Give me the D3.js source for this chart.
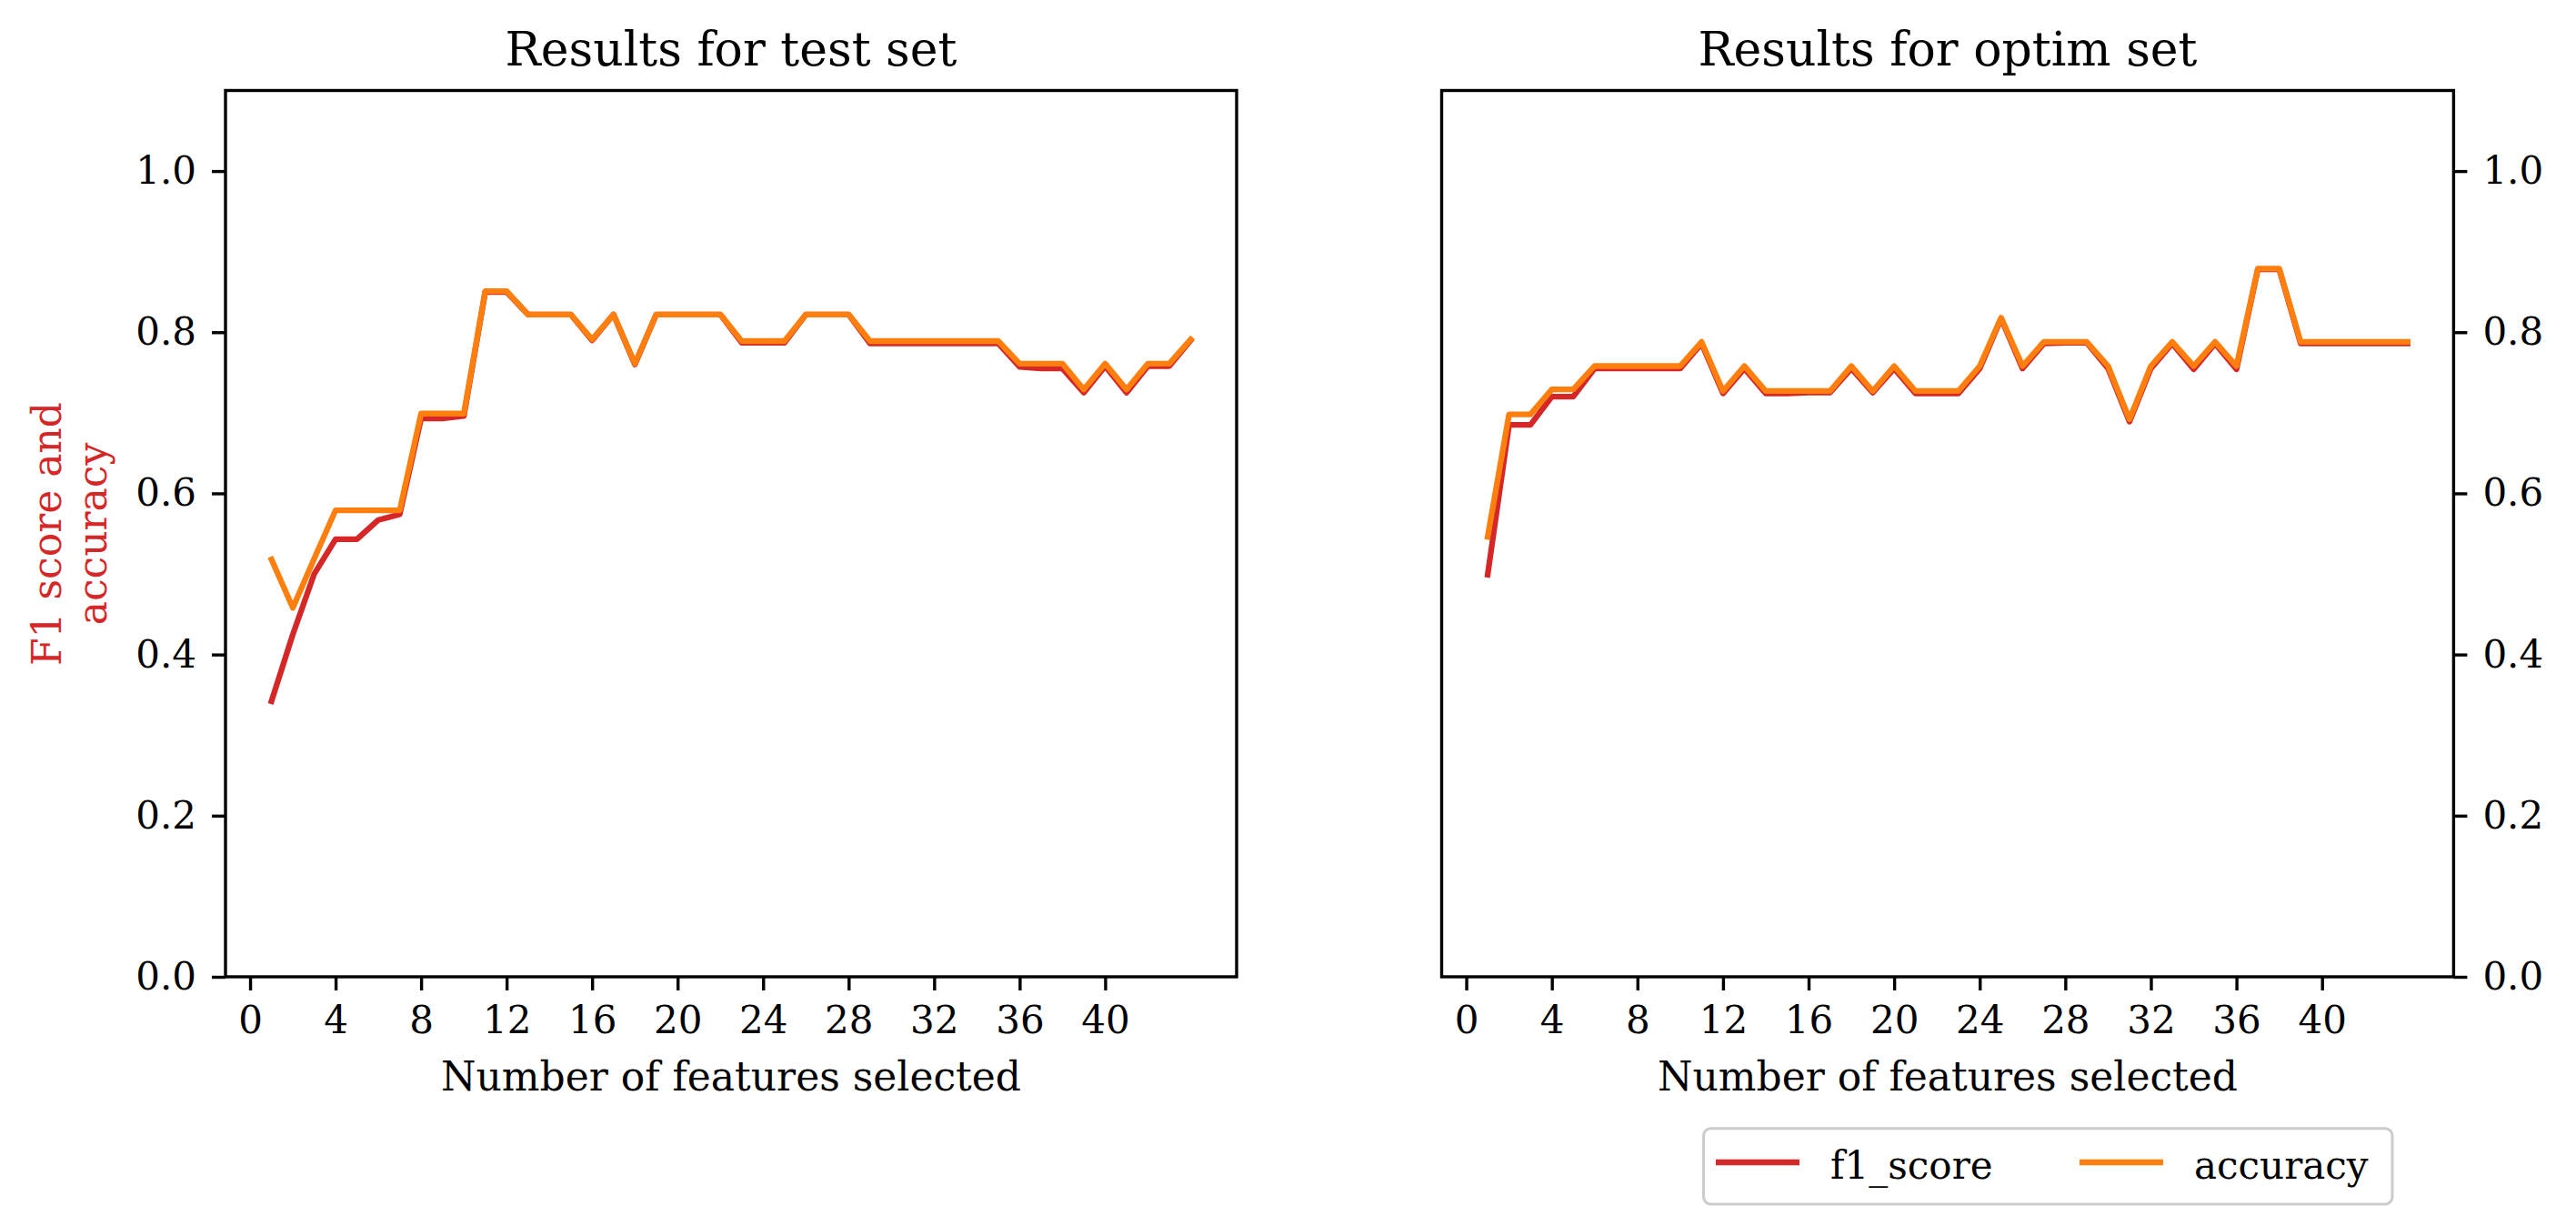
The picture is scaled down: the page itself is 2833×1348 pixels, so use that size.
<!DOCTYPE html>
<html>
<head>
<meta charset="utf-8">
<script src="https://cdn.jsdelivr.net/npm/d3@7/dist/d3.min.js"></script>
<style>
  html, body { margin: 0; padding: 0; background: #ffffff; }
  svg { display: block; }
  text { font-family: "DejaVu Serif", serif; }
</style>
</head>
<body>
<svg id="chart" width="2833" height="1348"></svg>
<script>
// ---------- data ----------
const features = d3.range(1, 45); // 1..44
const xTicks = [0, 4, 8, 12, 16, 20, 24, 28, 32, 36, 40];
const yTicks = [0.0, 0.2, 0.4, 0.6, 0.8, 1.0];

const testF1 = [0.342, 0.425, 0.50, 0.543, 0.543, 0.567, 0.574, 0.693, 0.693, 0.696,
  0.850, 0.850, 0.822, 0.822, 0.822, 0.790, 0.822, 0.760, 0.822, 0.822,
  0.822, 0.822, 0.787, 0.787, 0.787, 0.822, 0.822, 0.822, 0.786, 0.786,
  0.786, 0.786, 0.786, 0.786, 0.786, 0.757, 0.755, 0.755, 0.725, 0.758,
  0.725, 0.758, 0.758, 0.790];
const testAcc = [0.518, 0.458, 0.519, 0.579, 0.579, 0.579, 0.579, 0.699, 0.699, 0.699,
  0.851, 0.851, 0.822, 0.822, 0.822, 0.791, 0.822, 0.761, 0.822, 0.822,
  0.822, 0.822, 0.789, 0.789, 0.789, 0.822, 0.822, 0.822, 0.789, 0.789,
  0.789, 0.789, 0.789, 0.789, 0.789, 0.761, 0.761, 0.761, 0.729, 0.761,
  0.729, 0.761, 0.761, 0.791];

const optimF1 = [0.499, 0.685, 0.685, 0.720, 0.720, 0.755, 0.755, 0.755, 0.755, 0.755,
  0.786, 0.724, 0.755, 0.724, 0.724, 0.725, 0.725, 0.755, 0.725, 0.755,
  0.724, 0.724, 0.724, 0.755, 0.817, 0.755, 0.786, 0.787, 0.787, 0.755,
  0.689, 0.755, 0.786, 0.754, 0.786, 0.754, 0.878, 0.878, 0.786, 0.786,
  0.786, 0.786, 0.786, 0.786];
const optimAcc = [0.546, 0.698, 0.698, 0.729, 0.729, 0.758, 0.758, 0.758, 0.758, 0.758,
  0.788, 0.727, 0.758, 0.727, 0.727, 0.727, 0.727, 0.758, 0.727, 0.758,
  0.727, 0.727, 0.727, 0.758, 0.818, 0.758, 0.788, 0.788, 0.788, 0.758,
  0.692, 0.758, 0.788, 0.758, 0.788, 0.758, 0.879, 0.879, 0.788, 0.788,
  0.788, 0.788, 0.788, 0.788];

const seriesNames = ["f1_score", "accuracy"];
const seriesColors = ["#d62728", "#ff7f0e"];
const titles = ["Results for test set", "Results for optim set"];
const xLabel = "Number of features selected";
const yLabelLines = ["F1 score and", "accuracy"];

// ---------- layout ----------
const svg = d3.select("#chart");
svg.append("rect").attr("width", 2833).attr("height", 1348).attr("fill", "#fff");

const plotTop = 99.5, plotBottom = 1074;
const panels = [
  { left: 248, right: 1360, f1: testF1, acc: testAcc, title: titles[0], side: "left" },
  { left: 1585.5, right: 2698.4, f1: optimF1, acc: optimAcc, title: titles[1], side: "right" }
];
const tickFont = 42, labelFont = 44, titleFont = 52;
const spineW = 3.4, lineW = 6.3, tickLen = 15, tickPad = 17;

const y = d3.scaleLinear().domain([0, 1.1]).range([plotBottom, plotTop]);

panels.forEach(p => {
  const x = d3.scaleLinear().domain([-1.15, 46.15]).range([p.left, p.right]);
  const g = svg.append("g");

  // lines
  const line = d3.line().x((d, i) => x(features[i])).y(d => y(d));
  [p.f1, p.acc].forEach((vals, k) => {
    g.append("path")
      .datum(vals)
      .attr("d", line)
      .attr("fill", "none")
      .attr("stroke", seriesColors[k])
      .attr("stroke-width", lineW)
      .attr("stroke-linejoin", "round")
      .attr("stroke-linecap", "square");
  });

  // frame
  g.append("rect")
    .attr("x", p.left).attr("y", plotTop)
    .attr("width", p.right - p.left).attr("height", plotBottom - plotTop)
    .attr("fill", "none").attr("stroke", "#000").attr("stroke-width", spineW);

  // x axis
  const xAxis = d3.axisBottom(x).tickValues(xTicks).tickFormat(d3.format("d"))
    .tickSize(tickLen).tickPadding(tickPad);
  const gx = g.append("g").attr("transform", `translate(0,${plotBottom})`).call(xAxis);
  gx.select(".domain").remove();
  gx.selectAll(".tick line").attr("stroke", "#000").attr("stroke-width", spineW);
  gx.selectAll(".tick text").attr("font-size", tickFont).attr("fill", "#000")
    .attr("font-family", "DejaVu Serif");

  // y axis
  const yAxis = (p.side === "left" ? d3.axisLeft(y) : d3.axisRight(y))
    .tickValues(yTicks).tickFormat(d3.format(".1f"))
    .tickSize(tickLen).tickPadding(tickPad);
  const gy = g.append("g")
    .attr("transform", `translate(${p.side === "left" ? p.left : p.right},0)`)
    .call(yAxis);
  gy.select(".domain").remove();
  gy.selectAll(".tick line").attr("stroke", "#000").attr("stroke-width", spineW);
  gy.selectAll(".tick text").attr("font-size", tickFont).attr("fill", "#000")
    .attr("font-family", "DejaVu Serif");

  // title
  g.append("text")
    .attr("x", (p.left + p.right) / 2).attr("y", 72)
    .attr("text-anchor", "middle").attr("font-size", titleFont).attr("fill", "#000")
    .text(p.title);

  // x label
  g.append("text")
    .attr("x", (p.left + p.right) / 2).attr("y", 1199)
    .attr("text-anchor", "middle").attr("font-size", labelFont).attr("fill", "#000")
    .text(xLabel);
});

// y label (left, red, two lines)
const yl = svg.append("text")
  .attr("transform", "translate(66.7,587) rotate(-90)")
  .attr("text-anchor", "middle")
  .attr("font-size", labelFont)
  .attr("fill", "#d62728");
yLabelLines.forEach((t, i) => {
  yl.append("tspan").attr("x", 0).attr("y", i * 50.5).text(t);
});

// legend
const lg = svg.append("g");
lg.append("rect")
  .attr("x", 1873.5).attr("y", 1240.7).attr("width", 757.5).attr("height", 83.3)
  .attr("rx", 8).attr("ry", 8)
  .attr("fill", "#fff").attr("stroke", "#cccccc").attr("stroke-width", 3);
const legendItems = [
  { lx: 1887, tx: 2013 },
  { lx: 2287, tx: 2413 }
];
legendItems.forEach((it, k) => {
  lg.append("line")
    .attr("x1", it.lx).attr("x2", it.lx + 92)
    .attr("y1", 1278).attr("y2", 1278)
    .attr("stroke", seriesColors[k]).attr("stroke-width", lineW);
  lg.append("text")
    .attr("x", it.tx).attr("y", 1296)
    .attr("font-size", tickFont).attr("fill", "#000")
    .text(seriesNames[k]);
});
</script>
</body>
</html>
